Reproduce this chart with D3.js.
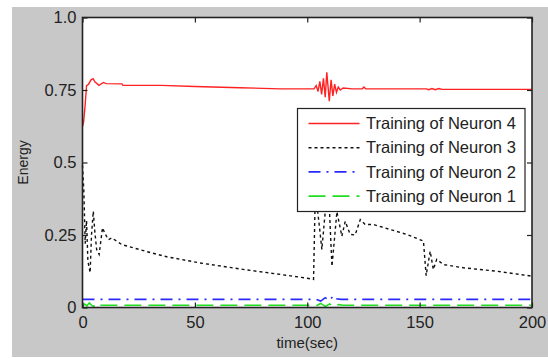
<!DOCTYPE html>
<html>
<head>
<meta charset="utf-8">
<script src="https://cdn.jsdelivr.net/npm/d3@7"></script>
<style>
  html, body { margin: 0; padding: 0; background: #fff; }
  svg { display: block; font-family: "Liberation Sans", Arial, sans-serif; }
</style>
</head>
<body>
<svg width="548" height="358"></svg>
<script>
(function(d3) {
    'use strict';

    // time (sec) / energy samples
    const n4Time = [0, 0.5, 1.2, 1.8, 2.7, 3.8, 4.7, 5.5, 7.3, 9.3, 10.5, 17.5, 18, 35, 50, 70, 88, 103,
        104, 104.8, 105.6, 106.4, 107.2, 108, 108.7, 109.8, 110.6, 111.4, 112.2, 113, 113.8, 114.7,
        116, 120, 124.5, 125.2, 126, 153, 154, 155.5, 157, 158.5, 160, 200];
    const n4Energy = [0.624, 0.64, 0.70, 0.765, 0.770, 0.785, 0.789, 0.778, 0.766, 0.776, 0.772, 0.771, 0.766, 0.766, 0.762, 0.758, 0.754, 0.754,
        0.765, 0.745, 0.780, 0.735, 0.790, 0.725, 0.811, 0.711, 0.785, 0.730, 0.770, 0.742, 0.760, 0.750,
        0.757, 0.754, 0.754, 0.760, 0.754, 0.754, 0.751, 0.755, 0.751, 0.755, 0.752, 0.752];

    const n3Time = [0, 0.6, 1.2, 1.8, 2.4, 3.4, 4.0, 4.8, 5.5, 6.3, 7.4, 8.9, 10, 11.5, 13, 17.5, 30.8, 37.5, 52, 70, 88, 100, 102.8,
        103.6, 105.4, 106.5, 108, 109.5, 111, 113.2, 115.4, 116.9, 119.1, 121.3, 123.6, 125.8, 129.5, 136.9, 144.3, 151.7,
        152.9, 154.7, 156.1, 157.6, 160.6, 169.5, 184.3, 200];
    const n3Energy = [0.49, 0.40, 0.22, 0.30, 0.16, 0.12, 0.25, 0.332, 0.26, 0.20, 0.183, 0.275, 0.255, 0.234, 0.24, 0.217, 0.188, 0.175, 0.154, 0.133, 0.114, 0.101, 0.097,
        0.40, 0.28, 0.20, 0.33, 0.40, 0.142, 0.33, 0.246, 0.297, 0.252, 0.25, 0.303, 0.286, 0.286, 0.269, 0.252, 0.229,
        0.110, 0.194, 0.131, 0.166, 0.148, 0.137, 0.125, 0.108];

    const n2Time = [0, 104, 106, 108, 110, 111.6, 113, 115, 200];
    const n2Energy = [0.028, 0.028, 0.022, 0.034, 0.024, 0.041, 0.030, 0.028, 0.028];

    const n1Time = [0, 1, 2, 3, 4, 5, 6, 7, 8, 100, 104, 106, 108, 110, 112, 114, 116, 200];
    const n1Energy = [0.003, 0.012, 0.006, 0.016, 0.008, 0.004, 0.012, 0.006, 0.008, 0.008, 0.006, 0.014, 0.004, 0.012, 0.003, 0.010, 0.008, 0.008];

    const xTicks = [0, 50, 100, 150, 200];
    const yTicks = [0, 0.25, 0.5, 0.75, 1.0];
    const yTickLabels = ['0', '0.25', '0.5', '0.75', '1.0'];

    const seriesNames = ['Training of Neuron 4', 'Training of Neuron 3', 'Training of Neuron 2', 'Training of Neuron 1'];

    const series = [
        { name: seriesNames[0], time: n4Time, energy: n4Energy, color: '#ff2222', dash: null, width: 1.4 },
        { name: seriesNames[1], time: n3Time, energy: n3Energy, color: '#111', dash: '3,3', width: 1.4 },
        { name: seriesNames[2], time: n2Time, energy: n2Energy, color: '#2a2aff', dash: '12,6,2,6', width: 1.6 },
        { name: seriesNames[3], time: n1Time, energy: n1Energy, color: '#22dd22', dash: '17,7', width: 1.6 }
    ];

    const svg = d3.select('svg');
    const left = 82.5, right = 532, top = 17.5, bottom = 307.5;
    const ink = '#222';

    // figure background
    svg.append('rect')
        .attr('x', 12).attr('y', 7)
        .attr('width', 536).attr('height', 350)
        .attr('fill', '#c8c8c8');

    svg.append('rect')
        .attr('x', left).attr('y', top)
        .attr('width', right - left).attr('height', bottom - top)
        .attr('fill', '#fff');

    const x = d3.scaleLinear().domain([0, 200]).range([left, right]);
    const y = d3.scaleLinear().domain([0, 1]).range([bottom, top]);

    const line = d3.line()
        .x(d => x(d[0]))
        .y(d => y(d[1]));

    const plot = svg.append('g');
    series.slice().reverse().forEach(s => {
        plot.append('path')
            .datum(d3.zip(s.time, s.energy))
            .attr('d', line)
            .attr('fill', 'none')
            .attr('stroke', s.color)
            .attr('stroke-width', s.width)
            .attr('stroke-dasharray', s.dash);
    });

    // axes with inward ticks on all four sides
    const styleAxis = g => {
        g.select('.domain').remove();
        g.selectAll('line').attr('stroke', ink).attr('stroke-width', 1.2);
        g.selectAll('text').attr('fill', ink).attr('font-size', 16.5);
    };

    svg.append('g')
        .attr('transform', `translate(0,${bottom})`)
        .call(d3.axisBottom(x).tickValues(xTicks).tickSizeInner(-5).tickSizeOuter(0).tickPadding(9))
        .call(styleAxis);
    svg.append('g')
        .attr('transform', `translate(0,${top})`)
        .call(d3.axisTop(x).tickValues(xTicks).tickSizeInner(-5).tickSizeOuter(0).tickFormat(''))
        .call(styleAxis);
    svg.append('g')
        .attr('transform', `translate(${left},0)`)
        .call(d3.axisLeft(y).tickValues(yTicks).tickSizeInner(-5).tickSizeOuter(0).tickPadding(6)
            .tickFormat((d, i) => yTickLabels[i]))
        .call(styleAxis);
    svg.append('g')
        .attr('transform', `translate(${right},0)`)
        .call(d3.axisRight(y).tickValues(yTicks).tickSizeInner(-5).tickSizeOuter(0).tickFormat(''))
        .call(styleAxis);

    svg.append('rect')
        .attr('x', left).attr('y', top)
        .attr('width', right - left).attr('height', bottom - top)
        .attr('fill', 'none')
        .attr('stroke', ink)
        .attr('stroke-width', 1.6);

    svg.append('text')
        .attr('x', (left + right) / 2).attr('y', 348)
        .attr('text-anchor', 'middle')
        .attr('font-size', 15)
        .attr('fill', ink)
        .text('time(sec)');

    svg.append('text')
        .attr('transform', `translate(28,${(top + bottom) / 2}) rotate(-90)`)
        .attr('text-anchor', 'middle')
        .attr('font-size', 14)
        .attr('fill', ink)
        .text('Energy');

    // legend
    const legend = svg.append('g').attr('transform', 'translate(297.5,108.5)');
    legend.append('rect')
        .attr('width', 227.5).attr('height', 103)
        .attr('fill', '#fff')
        .attr('stroke', ink)
        .attr('stroke-width', 1.2);

    const item = legend.selectAll('g.item')
        .data(series)
        .enter().append('g')
        .attr('class', 'item')
        .attr('transform', (d, i) => `translate(0,${15 + i * 24.2})`);
    item.append('line')
        .attr('x1', 11).attr('x2', 62)
        .attr('stroke', d => d.color)
        .attr('stroke-width', d => d.width)
        .attr('stroke-dasharray', d => d.dash);
    item.append('text')
        .attr('x', 68.5)
        .attr('dy', '0.35em')
        .attr('font-size', 16.5)
        .attr('fill', ink)
        .text(d => d.name);
}(d3));
</script>
</body>
</html>
